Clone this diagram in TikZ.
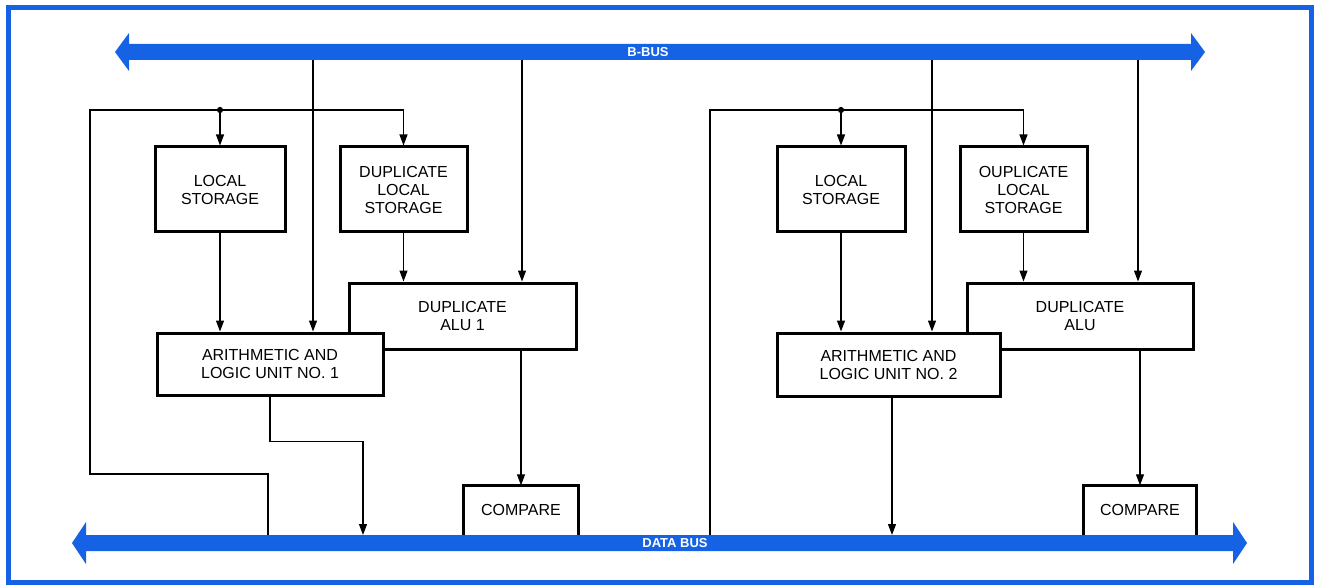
\documentclass[tikz,border=0pt]{standalone}
\usepackage{fontspec}
\setmainfont{Liberation Sans}
\usetikzlibrary{arrows.meta}
\usetikzlibrary{calc}
\definecolor{busblue}{RGB}{22,98,228}
\tikzstyle{blk}=[draw,line width=3pt,fill=white,align=center,inner sep=0pt,font=\fontsize{16}{18}\selectfont]
\tikzstyle{opn}=[align=center,inner sep=0pt,font=\fontsize{16}{18}\selectfont]
\tikzstyle{pnt}=[circle,fill,inner sep=2.2pt]
\tikzstyle{lbl}=[text=white,inner sep=0pt,font=\fontsize{13}{13}\selectfont\bfseries]
\tikzstyle{wire}=[line width=1.2pt]

\begin{document}
\begin{tikzpicture}[x=1pt,y=-1pt,>={Triangle[length=11pt,width=8pt]}]
\useasboundingbox (0,0) rectangle (1317,588);
\draw[busblue,line width=5pt] (8,8) rectangle (1311,582);

% the two buses
\fill[busblue] (115,52) -- (129,33) -- (129,44) -- (1191,44) -- (1191,33) -- (1205,52)
  -- (1191,71) -- (1191,60) -- (129,60) -- (129,71) -- cycle;
\fill[busblue] (72,543) -- (86,522) -- (86,535) -- (1233,535) -- (1233,522) -- (1247,543)
  -- (1233,564) -- (1233,551) -- (86,551) -- (86,564) -- cycle;
\node[lbl] (bbus) at (648,52) {B-BUS};
\node[lbl] (dbus) at (675,543) {DATA BUS};

% unit 1
\node[blk,minimum width=130,minimum height=85] (ls1) at (220,189.5) {LOCAL\\STORAGE};
\node[blk,minimum width=127,minimum height=85] (dls1) at (403.5,189.5) {DUPLICATE\\LOCAL\\STORAGE};
\node[blk,minimum width=227,minimum height=66] (dalu1) at (462.5,316) {DUPLICATE\\ALU 1};
\node[blk,minimum width=226,minimum height=62] (alu1) at (270,364) {ARITHMETIC AND\\LOGIC UNIT NO. 1};
\node[opn,minimum width=114,minimum height=49] (cmp1) at (521,510) {COMPARE};
\draw[line width=3pt] (cmp1.south west) |- (cmp1.north) -| (cmp1.south east);

\coordinate (bb1) at (313,60);
\coordinate (bb2) at (522,60);
\coordinate (top1) at (90,110);
\coordinate (fb1) at (268,535);
\coordinate (db1) at (363,535);
\node[pnt] (dot1) at (ls1.north |- top1) {};

\draw[wire,->] (fb1) -- ++(0,-61) -| (top1) -| (dls1.north);
\draw[wire,->] (dot1) -- (ls1.north);
\draw[wire,->] (bb1) -- (bb1 |- alu1.north);
\draw[wire,->] (bb2) -- (bb2 |- dalu1.north);
\draw[wire,->] (ls1.south) -- (ls1.south |- alu1.north);
\draw[wire,->] (dls1.south) -- (dls1.south |- dalu1.north);
\draw[wire,->] (cmp1.north |- dalu1.south) -- (cmp1.north);
\draw[wire,->] (alu1.south) -- ++(0,45) -| (db1);

% unit 2
\node[blk,minimum width=128,minimum height=85] (ls2) at (841,189.5) {LOCAL\\STORAGE};
\node[blk,minimum width=127,minimum height=85] (dls2) at (1023.5,189.5) {OUPLICATE\\LOCAL\\STORAGE};
\node[blk,minimum width=226,minimum height=66] (dalu2) at (1080,316) {DUPLICATE\\ALU};
\node[blk,minimum width=223,minimum height=63] (alu2) at (888.5,364.5) {ARITHMETIC AND\\LOGIC UNIT NO. 2};
\node[opn,minimum width=113,minimum height=49] (cmp2) at (1140,510) {COMPARE};
\draw[line width=3pt] (cmp2.south west) |- (cmp2.north) -| (cmp2.south east);

\coordinate (bb3) at (932,60);
\coordinate (bb4) at (1138,60);
\coordinate (top2) at (710,110);
\coordinate (fb2) at (710,535);
\coordinate (db2) at (892,535);
\node[pnt] (dot2) at (ls2.north |- top2) {};

\draw[wire,->] (fb2) -- (top2) -| (dls2.north);
\draw[wire,->] (dot2) -- (ls2.north);
\draw[wire,->] (bb3) -- (bb3 |- alu2.north);
\draw[wire,->] (bb4) -- (bb4 |- dalu2.north);
\draw[wire,->] (ls2.south) -- (ls2.south |- alu2.north);
\draw[wire,->] (dls2.south) -- (dls2.south |- dalu2.north);
\draw[wire,->] (cmp2.north |- dalu2.south) -- (cmp2.north);
\draw[wire,->] (db2 |- alu2.south) -- (db2);
\end{tikzpicture}
\end{document}
